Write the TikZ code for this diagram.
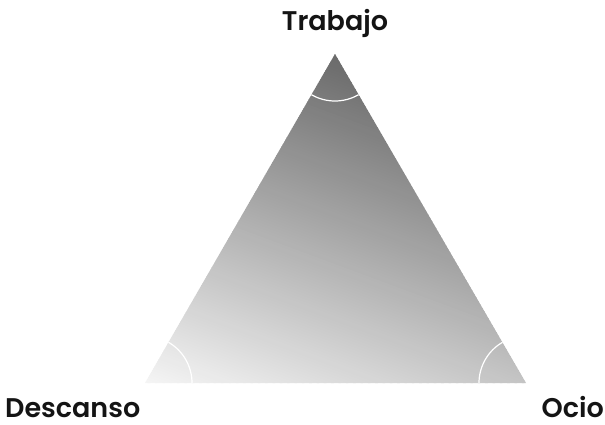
\documentclass[tikz,border=0pt]{standalone}
\usepackage{fontspec}
\newfontfamily\lab{Poppins SemiBold}
\begin{document}
\begin{tikzpicture}[x=1pt,y=-1pt,
  lbl/.style={font=\lab\fontsize{27}{30}\selectfont, inner sep=0pt, text=black!92},
  anglearc/.style={draw=white, line width=1.2pt}]
\useasboundingbox (0,0) rectangle (605,424);
\coordinate (T) at (335,54);
\coordinate (L) at (145,383);
\coordinate (R) at (526,383);
% gradient fill: light at bottom-left, dark at apex
\begin{scope}
  \clip (T) -- (L) -- (R) -- cycle;
  \foreach \i in {0,...,149}{
    \pgfmathsetmacro{\sa}{-68+\i*2.55}
    \pgfmathsetmacro{\sb}{\sa+3.2}
    \pgfmathsetmacro{\v}{106+(\sa+1.3+66)*0.371}
    \pgfmathsetmacro{\p}{min(100,max(0,100-\v/2.55))}
    \fill[black!\p]
      ({\sa*(-0.348)+1000*0.938},{\sa*0.938+1000*0.348}) --
      ({\sa*(-0.348)-1000*0.938},{\sa*0.938-1000*0.348}) --
      ({\sb*(-0.348)-1000*0.938},{\sb*0.938-1000*0.348}) --
      ({\sb*(-0.348)+1000*0.938},{\sb*0.938+1000*0.348}) -- cycle;
  }
\end{scope}
% angle arcs (y axis points down)
\draw[anglearc] ([shift={(60:47)}]T) arc[start angle=60, end angle=120, radius=47];
\draw[anglearc] ([shift={(0:47)}]L) arc[start angle=0, end angle=-60, radius=47];
\draw[anglearc] ([shift={(180:47)}]R) arc[start angle=180, end angle=240, radius=47];
% labels
\node[lbl, anchor=base] (trabajo) at (335,30) {Trabajo};
\node[lbl, anchor=base west] (descanso) at (5,417) {Descanso};
\node[lbl, anchor=base east] (ocio) at (604,417) {Ocio};
\end{tikzpicture}
\end{document}
